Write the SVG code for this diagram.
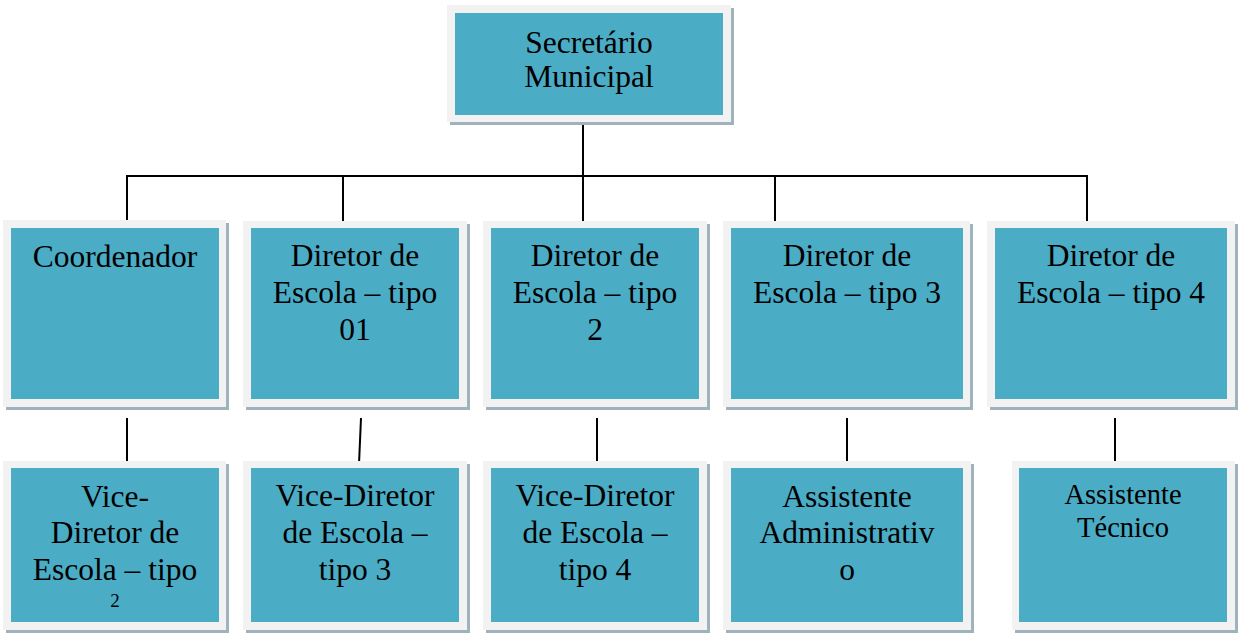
<svg xmlns="http://www.w3.org/2000/svg" width="1238" height="635" viewBox="0 0 1238 635">
<style>
.sh{fill:#9fb3bc}
.fr{fill:#f2f2f2}
.in{fill:#4bacc6}
.t{font-family:"Liberation Serif","Times New Roman",serif;font-size:31.5px;fill:#000;text-anchor:middle}
.s{font-size:28.5px}
.sm{font-size:19px}
.c{stroke:#000;stroke-width:2;fill:none}
</style>
<rect width="1238" height="635" fill="#fff"/>
<g id="connectors">
<line class="c" x1="583" y1="124" x2="583" y2="176"/>
<line class="c" x1="126" y1="176" x2="1088" y2="176"/>
<line class="c" x1="127" y1="176" x2="127" y2="220"/>
<line class="c" x1="343" y1="176" x2="343" y2="221"/>
<line class="c" x1="583" y1="176" x2="583" y2="221"/>
<line class="c" x1="775" y1="176" x2="775" y2="221"/>
<line class="c" x1="1087" y1="176" x2="1087" y2="221"/>
<line class="c" x1="127" y1="418" x2="127" y2="463"/>
<line class="c" x1="361" y1="418" x2="359" y2="464"/>
<line class="c" x1="597" y1="418" x2="597" y2="467"/>
<line class="c" x1="847" y1="418" x2="847" y2="463"/>
<line class="c" x1="1115" y1="418" x2="1115" y2="463"/>
</g>
<g id="secretario">
<rect class="sh" x="450" y="8" width="284" height="117"/>
<rect class="fr" x="447" y="5" width="284" height="117"/>
<rect class="in" x="455" y="13" width="268" height="102"/>
<text class="t" x="589" y="53">Secretário</text>
<text class="t" x="589" y="87">Municipal</text>
</g>
<g id="coordenador">
<rect class="sh" x="6" y="223" width="223" height="187"/>
<rect class="fr" x="3" y="220" width="223" height="187"/>
<rect class="in" x="11" y="228" width="208" height="171"/>
<text class="t" x="115" y="267">Coordenador</text>
</g>
<g id="diretor1">
<rect class="sh" x="246" y="224" width="224" height="186"/>
<rect class="fr" x="243" y="221" width="224" height="186"/>
<rect class="in" x="251" y="228" width="208" height="171"/>
<text class="t" x="355" y="266">Diretor de</text>
<text class="t" x="355" y="303">Escola – tipo</text>
<text class="t" x="355" y="340">01</text>
</g>
<g id="diretor2">
<rect class="sh" x="486" y="224" width="224" height="186"/>
<rect class="fr" x="483" y="221" width="224" height="186"/>
<rect class="in" x="491" y="228" width="208" height="171"/>
<text class="t" x="595" y="266">Diretor de</text>
<text class="t" x="595" y="303">Escola – tipo</text>
<text class="t" x="595" y="340">2</text>
</g>
<g id="diretor3">
<rect class="sh" x="726" y="224" width="247" height="186"/>
<rect class="fr" x="723" y="221" width="247" height="186"/>
<rect class="in" x="731" y="228" width="232" height="171"/>
<text class="t" x="847" y="266">Diretor de</text>
<text class="t" x="847" y="303">Escola – tipo 3</text>
</g>
<g id="diretor4">
<rect class="sh" x="990" y="224" width="248" height="186"/>
<rect class="fr" x="987" y="221" width="248" height="186"/>
<rect class="in" x="995" y="228" width="232" height="171"/>
<text class="t" x="1111" y="266">Diretor de</text>
<text class="t" x="1111" y="303">Escola – tipo 4</text>
</g>
<g id="vice2">
<rect class="sh" x="6" y="464" width="223" height="169"/>
<rect class="fr" x="3" y="461" width="223" height="169"/>
<rect class="in" x="11" y="468" width="208" height="154"/>
<text class="t" x="115" y="507">Vice-</text>
<text class="t" x="115" y="543">Diretor de</text>
<text class="t" x="115" y="580">Escola – tipo</text>
<text class="t sm" x="115" y="607">2</text>
</g>
<g id="vice3">
<rect class="sh" x="246" y="464" width="224" height="169"/>
<rect class="fr" x="243" y="461" width="224" height="169"/>
<rect class="in" x="251" y="468" width="208" height="154"/>
<text class="t" x="355" y="506">Vice-Diretor</text>
<text class="t" x="355" y="543">de Escola –</text>
<text class="t" x="355" y="580">tipo 3</text>
</g>
<g id="vice4">
<rect class="sh" x="486" y="464" width="224" height="169"/>
<rect class="fr" x="483" y="461" width="224" height="169"/>
<rect class="in" x="491" y="468" width="208" height="154"/>
<text class="t" x="595" y="506">Vice-Diretor</text>
<text class="t" x="595" y="543">de Escola –</text>
<text class="t" x="595" y="580">tipo 4</text>
</g>
<g id="assistente-adm">
<rect class="sh" x="726" y="464" width="248" height="169"/>
<rect class="fr" x="723" y="461" width="248" height="169"/>
<rect class="in" x="731" y="468" width="232" height="154"/>
<text class="t" x="847" y="507">Assistente</text>
<text class="t" x="847" y="543">Administrativ</text>
<text class="t" x="847" y="580">o</text>
</g>
<g id="assistente-tec">
<rect class="sh" x="1015" y="464" width="223" height="169"/>
<rect class="fr" x="1012" y="461" width="223" height="169"/>
<rect class="in" x="1019" y="468" width="208" height="154"/>
<text class="t s" x="1123" y="504">Assistente</text>
<text class="t s" x="1123" y="537">Técnico</text>
</g>
</svg>
